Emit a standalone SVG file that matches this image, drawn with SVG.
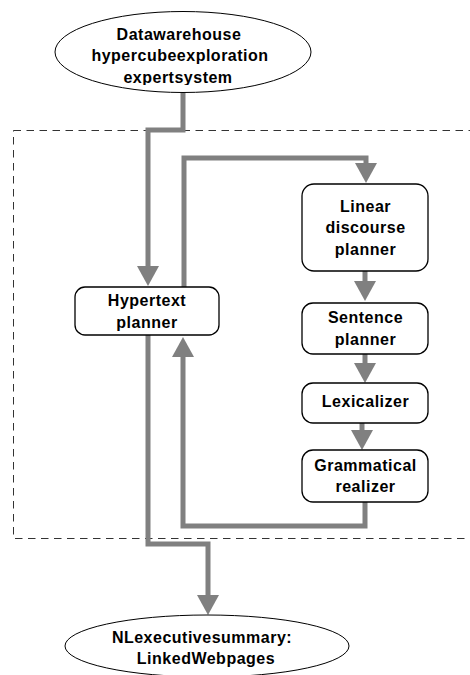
<svg xmlns="http://www.w3.org/2000/svg" width="470" height="675" viewBox="0 0 470 675">
<style>
text{font-family:"Liberation Sans",Arial,sans-serif;font-size:16px;font-weight:bold;fill:#000;text-anchor:middle;letter-spacing:0.5px}
.box{fill:#fff;stroke:#000;stroke-width:1.3}
.ell{fill:#fff;stroke:#000;stroke-width:1}
.con{fill:none;stroke:#808080;stroke-width:5;marker-end:url(#ah)}
</style>
<defs>
<marker id="ah" markerUnits="userSpaceOnUse" viewBox="0 0 20 22" refX="0" refY="11" markerWidth="20" markerHeight="22" orient="auto">
<path d="M0,0 L20,11 L0,22 Z" fill="#808080"/>
</marker>
<clipPath id="topclip"><rect x="0" y="0" width="470" height="85"/></clipPath>
</defs>
<rect id="boundary" x="13.5" y="130.5" width="470" height="408" fill="none" stroke="#333" stroke-width="1" stroke-dasharray="7.5 5.5"/>
<g id="connectors">
<path class="con" d="M183,93 V130 H148 V266"/>
<path class="con" d="M184,287 V158 H366 V163"/>
<path class="con" d="M365,271 V281"/>
<path class="con" d="M365,354 V363"/>
<path class="con" d="M362,423 V430"/>
<path class="con" d="M365,502 V526 H183 V357"/>
<path class="con" d="M148,335 V544 H208 V595"/>
</g>
<g id="source">
<ellipse class="ell" cx="183" cy="52" rx="128" ry="40.5"/>
<text x="179" y="40">Datawarehouse</text>
<text x="180" y="61">hypercubeexploration</text>
<text x="178" y="83" clip-path="url(#topclip)">expertsystem</text>
</g>
<g id="hypertext">
<rect class="box" x="75" y="287" width="144" height="48" rx="10"/>
<text x="147" y="306">Hypertext</text>
<text x="147" y="328">planner</text>
</g>
<g id="linear">
<rect class="box" x="302" y="184" width="126" height="87" rx="12"/>
<text x="365.5" y="212">Linear</text>
<text x="365.5" y="233">discourse</text>
<text x="365.5" y="255">planner</text>
</g>
<g id="sentence">
<rect class="box" x="302" y="303" width="126" height="51" rx="11"/>
<text x="365.5" y="323">Sentence</text>
<text x="365.5" y="345">planner</text>
</g>
<g id="lexicalizer">
<rect class="box" x="302" y="383" width="126" height="40" rx="11"/>
<text x="365.5" y="407">Lexicalizer</text>
</g>
<g id="grammatical">
<rect class="box" x="302" y="450" width="126" height="52" rx="11"/>
<text x="365.5" y="471">Grammatical</text>
<text x="365.5" y="492">realizer</text>
</g>
<g id="output">
<ellipse class="ell" cx="207" cy="646" rx="142" ry="31"/>
<text x="202" y="643">NLexecutivesummary:</text>
<text x="206" y="664">LinkedWebpages</text>
</g>
</svg>
